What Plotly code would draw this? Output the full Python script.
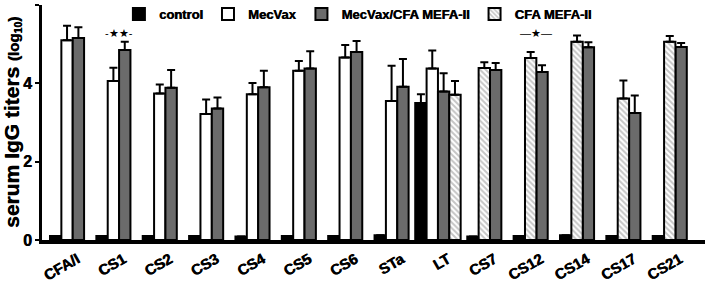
import plotly.graph_objects as go

categories = ["CFA/I", "CS1", "CS2", "CS3", "CS4", "CS5", "CS6", "STa", "LT",
              "CS7", "CS12", "CS14", "CS17", "CS21"]

control = [0.10, 0.10, 0.10, 0.10, 0.09, 0.10, 0.10, 0.12, 3.50, 0.09, 0.10, 0.12, 0.10, 0.10]
control_err = [None, None, None, None, None, None, None, None, 3.72, None, None, None, None, None]

mecvax = [5.10, 4.06, 3.74, 3.22, 3.72, 4.32, 4.66, 3.55, 4.38, None, None, None, None, None]
mecvax_err = [5.47, 4.40, 3.97, 3.59, 4.01, 4.57, 4.98, 4.45, 4.84, None, None, None, None, None]

combo = [5.16, 4.85, 3.89, 3.36, 3.90, 4.38, 4.80, 3.91, 3.79, 4.34, 4.29, 4.92, 3.24, 4.93]
combo_err = [5.43, 5.06, 4.34, 3.64, 4.32, 4.82, 5.08, 4.62, 4.26, 4.52, 4.46, 5.05, 3.69, 5.03]

mefa = [None, None, None, None, None, None, None, None, 3.71, 4.39, 4.65, 5.06, 3.61, 5.06]
mefa_err = [None, None, None, None, None, None, None, None, 4.06, 4.54, 4.80, 5.22, 4.07, 5.21]

series_names = ["control", "MecVax", "MecVax/CFA MEFA-II", "CFA MEFA-II"]
y_ticks = [0, 2, 4, 6]
sig_labels = ["-★★-", "—★—"]
sig_cats = ["CS1", "CS12"]
sig_y = [5.28, 5.28]

# slot order within each group (layout only)
order_default = ["control", "MecVax", "MecVax/CFA MEFA-II", "CFA MEFA-II"]
order_cfa = ["control", "CFA MEFA-II", "MecVax/CFA MEFA-II"]

data = {
    "control": (control, control_err),
    "MecVax": (mecvax, mecvax_err),
    "MecVax/CFA MEFA-II": (combo, combo_err),
    "CFA MEFA-II": (mefa, mefa_err),
}

W = 0.245
styles = {
    "control": dict(color="black"),
    "MecVax": dict(color="white"),
    "MecVax/CFA MEFA-II": dict(color="#6b6b6b"),
    "CFA MEFA-II": dict(color="white",
                        pattern=dict(shape="\\", fgcolor="#8c8c8c", bgcolor="white",
                                     size=4, solidity=0.5, fillmode="overlay")),
}

fig = go.Figure()
for name in series_names:
    vals, errs = data[name]
    xs, ys, offs, eplus = [], [], [], []
    for i, cat in enumerate(categories):
        v = vals[i]
        if v is None:
            continue
        order = order_cfa if i >= 9 else order_default
        present = [s for s in order if data[s][0][i] is not None]
        n = len(present)
        k = present.index(name)
        xs.append(i)
        ys.append(v)
        offs.append(-n * W / 2 + k * W)
        e = errs[i]
        eplus.append(0 if e is None else e - v)
    fig.add_trace(go.Bar(
        x=xs, y=ys, name=name, offset=offs, width=W,
        marker=dict(**styles[name], line=dict(color="black", width=2)),
        error_y=dict(type="data", array=eplus, symmetric=False,
                     arrayminus=[0] * len(eplus), color="black",
                     thickness=2, width=4),
    ))

for lab, cat, yy in zip(sig_labels, sig_cats, sig_y):
    fig.add_annotation(x=categories.index(cat) + W / 2, y=yy, text=lab,
                       showarrow=False, font=dict(size=11, color="black"),
                       xanchor="center", yanchor="middle")

heavy = "0.6px 0 0 black"
bold = dict(family="Liberation Sans", color="black", weight="bold")
fig.update_layout(
    width=705, height=283,
    margin=dict(l=42, r=0, t=5, b=43, autoexpand=False),
    barmode="overlay",
    plot_bgcolor="white", paper_bgcolor="white",
    font=dict(family="Liberation Sans", color="black"),
    legend=dict(orientation="h", x=0.116, y=1.025, xanchor="left", yanchor="top",
                font=dict(size=13, shadow=heavy, **bold), bgcolor="rgba(0,0,0,0)",
                itemwidth=30, tracegroupgap=0),
    xaxis=dict(range=[-0.54, 13.76], tickmode="array",
               tickvals=list(range(len(categories))), ticktext=categories,
               tickangle=-30, tickfont=dict(size=15, shadow=heavy, **bold),
               showline=True, linecolor="black", linewidth=4,
               ticks="", showgrid=False, zeroline=False, automargin=False,
               ticklabelshift=10, ticklabelstandoff=1),
    yaxis=dict(range=[0, 6], tickvals=y_ticks, tickfont=dict(size=16, shadow=heavy, **bold),
               showline=True, linecolor="black", linewidth=3, automargin=False,
               ticks="outside", ticklen=4, tickwidth=2, tickcolor="black",
               showgrid=False, zeroline=False,
               title=dict(text="serum IgG titers <span style='font-size:15px'>(log<sub>10</sub>)</span>",
                          font=dict(size=21, shadow=heavy, **bold), standoff=4)),
)

fig.write_html("out.html", config={"displayModeBar": False},
               post_script="document.body.style.margin='0';")
